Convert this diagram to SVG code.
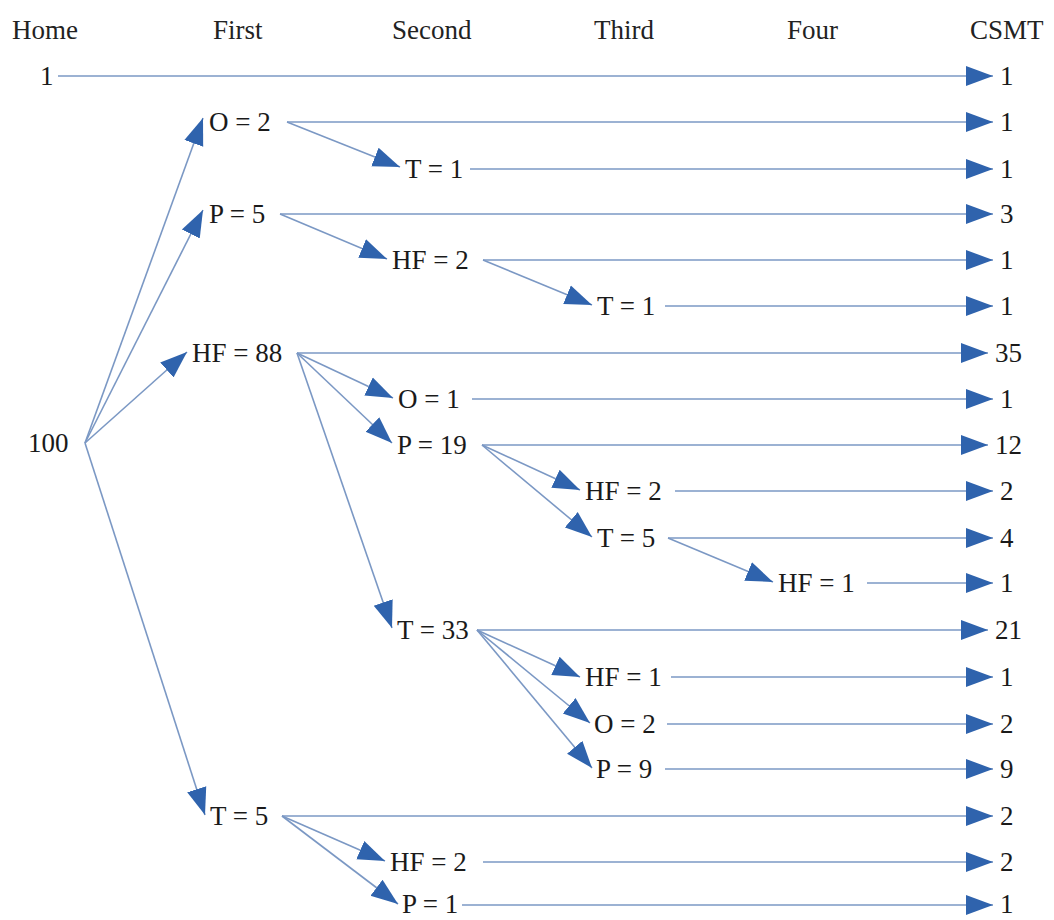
<svg xmlns="http://www.w3.org/2000/svg" width="1054" height="920" viewBox="0 0 1054 920">
<style>
.h{font-family:"Liberation Serif","Times New Roman",serif;font-size:27px;fill:#222}
.n{font-family:"Liberation Serif","Times New Roman",serif;font-size:27px;fill:#1a1a1a}
.c{stroke:#7b98c4;stroke-width:1.6;fill:none;marker-end:url(#ah)}
</style>
<defs>
<marker id="ah" markerUnits="userSpaceOnUse" markerWidth="28" markerHeight="22" refX="27" refY="10" orient="auto" viewBox="0 0 28 20">
<path d="M0,0 L27,10 L0,20 z" fill="#2f63ad"/>
</marker>
</defs>
<rect width="1054" height="920" fill="#fff"/>
<g id="headers">
<text class="h" x="12" y="39">Home</text>
<text class="h" x="213" y="39">First</text>
<text class="h" x="392" y="39">Second</text>
<text class="h" x="594" y="39">Third</text>
<text class="h" x="787" y="39">Four</text>
<text class="h" x="970" y="39">CSMT</text>
</g>
<g id="connectors">
<line class="c" x1="58" y1="76" x2="993" y2="76"/>
<line class="c" x1="85" y1="443" x2="203" y2="118"/>
<line class="c" x1="85" y1="443" x2="203" y2="210"/>
<line class="c" x1="85" y1="443" x2="187" y2="352"/>
<line class="c" x1="85" y1="443" x2="205" y2="815"/>
<line class="c" x1="287" y1="122" x2="993" y2="122"/>
<line class="c" x1="287" y1="122" x2="400" y2="167"/>
<line class="c" x1="470" y1="169" x2="993" y2="169"/>
<line class="c" x1="280" y1="214" x2="993" y2="214"/>
<line class="c" x1="280" y1="214" x2="387" y2="259"/>
<line class="c" x1="483" y1="260" x2="993" y2="260"/>
<line class="c" x1="483" y1="260" x2="592" y2="305"/>
<line class="c" x1="665" y1="306" x2="993" y2="306"/>
<line class="c" x1="297" y1="353" x2="988" y2="353"/>
<line class="c" x1="297" y1="353" x2="393" y2="398"/>
<line class="c" x1="297" y1="353" x2="392" y2="443"/>
<line class="c" x1="297" y1="353" x2="392" y2="628"/>
<line class="c" x1="472" y1="399" x2="993" y2="399"/>
<line class="c" x1="482" y1="445" x2="988" y2="445"/>
<line class="c" x1="482" y1="445" x2="580" y2="490"/>
<line class="c" x1="482" y1="445" x2="592" y2="537"/>
<line class="c" x1="675" y1="491" x2="993" y2="491"/>
<line class="c" x1="668" y1="538" x2="993" y2="538"/>
<line class="c" x1="668" y1="538" x2="773" y2="582"/>
<line class="c" x1="867" y1="583" x2="993" y2="583"/>
<line class="c" x1="477" y1="630" x2="988" y2="630"/>
<line class="c" x1="477" y1="630" x2="580" y2="677"/>
<line class="c" x1="477" y1="630" x2="590" y2="723"/>
<line class="c" x1="477" y1="630" x2="592" y2="768"/>
<line class="c" x1="671" y1="677" x2="993" y2="677"/>
<line class="c" x1="667" y1="724" x2="993" y2="724"/>
<line class="c" x1="665" y1="769" x2="993" y2="769"/>
<line class="c" x1="282" y1="816" x2="993" y2="816"/>
<line class="c" x1="282" y1="816" x2="385" y2="861"/>
<line class="c" x1="282" y1="816" x2="398" y2="904"/>
<line class="c" x1="483" y1="862" x2="993" y2="862"/>
<line class="c" x1="462" y1="905" x2="993" y2="905"/>
</g>
<g id="n-home1"><text class="n" x="40" y="85">1</text></g>
<g id="n-home100"><text class="n" x="28" y="452">100</text></g>
<g id="n-o2"><text class="n" x="209" y="131">O = 2</text></g>
<g id="n-p5"><text class="n" x="209" y="223">P = 5</text></g>
<g id="n-hf88"><text class="n" x="192" y="362">HF = 88</text></g>
<g id="n-t5"><text class="n" x="210" y="825">T = 5</text></g>
<g id="n-t1a"><text class="n" x="405" y="178">T = 1</text></g>
<g id="n-hf2a"><text class="n" x="392" y="269">HF = 2</text></g>
<g id="n-o1"><text class="n" x="398" y="408">O = 1</text></g>
<g id="n-p19"><text class="n" x="397" y="454">P = 19</text></g>
<g id="n-t33"><text class="n" x="397" y="639">T = 33</text></g>
<g id="n-hf2e"><text class="n" x="390" y="871">HF = 2</text></g>
<g id="n-p1"><text class="n" x="402" y="913">P = 1</text></g>
<g id="n-t1b"><text class="n" x="597" y="315">T = 1</text></g>
<g id="n-hf2c"><text class="n" x="585" y="500">HF = 2</text></g>
<g id="n-t5c"><text class="n" x="597" y="547">T = 5</text></g>
<g id="n-hf1d"><text class="n" x="585" y="686">HF = 1</text></g>
<g id="n-o2d"><text class="n" x="594" y="733">O = 2</text></g>
<g id="n-p9"><text class="n" x="596" y="778">P = 9</text></g>
<g id="n-hf1f"><text class="n" x="778" y="592">HF = 1</text></g>
<g id="csmt">
<text class="n" x="1000" y="85">1</text>
<text class="n" x="1000" y="131">1</text>
<text class="n" x="1000" y="178">1</text>
<text class="n" x="1000" y="223">3</text>
<text class="n" x="1000" y="269">1</text>
<text class="n" x="1000" y="315">1</text>
<text class="n" x="995" y="362">35</text>
<text class="n" x="1000" y="408">1</text>
<text class="n" x="995" y="454">12</text>
<text class="n" x="1000" y="500">2</text>
<text class="n" x="1000" y="547">4</text>
<text class="n" x="1000" y="592">1</text>
<text class="n" x="995" y="639">21</text>
<text class="n" x="1000" y="686">1</text>
<text class="n" x="1000" y="733">2</text>
<text class="n" x="1000" y="778">9</text>
<text class="n" x="1000" y="825">2</text>
<text class="n" x="1000" y="871">2</text>
<text class="n" x="1000" y="913">1</text>
</g>
</svg>
